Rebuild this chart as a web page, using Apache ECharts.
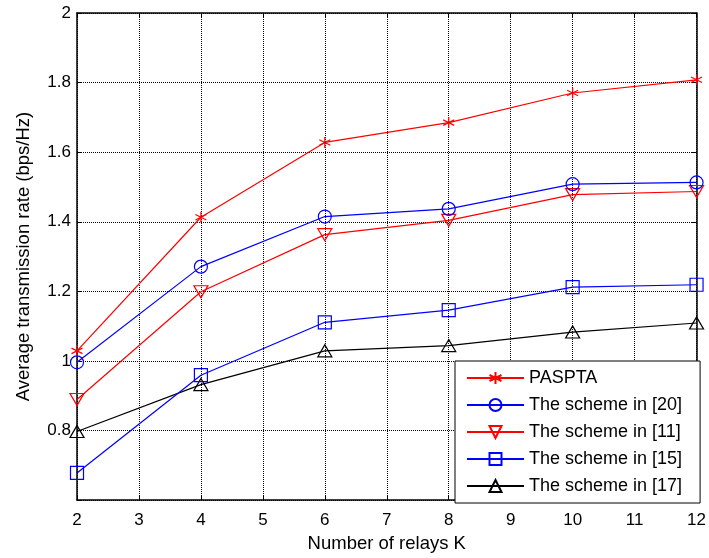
<!DOCTYPE html>
<html>
<head>
<meta charset="utf-8">
<script src="https://cdn.jsdelivr.net/npm/echarts@6/dist/echarts.min.js"></script>
<style>html,body{margin:0;padding:0;background:#fff;}#c{width:709px;height:558px;}</style>
</head>
<body>
<div id="c"></div>
<script>
var relays = [2, 4, 6, 8, 10, 12];
var seriesNames = ['PASPTA', 'The scheme in [20]', 'The scheme in [11]', 'The scheme in [15]', 'The scheme in [17]'];
var paspta   = [1.029, 1.413, 1.628, 1.685, 1.770, 1.808];
var scheme20 = [0.996, 1.271, 1.415, 1.437, 1.508, 1.513];
var scheme11 = [0.889, 1.199, 1.363, 1.404, 1.478, 1.487];
var scheme15 = [0.678, 0.959, 1.111, 1.146, 1.212, 1.219];
var scheme17 = [0.797, 0.932, 1.029, 1.044, 1.083, 1.109];
var xTicks = [2, 3, 4, 5, 6, 7, 8, 9, 10, 11, 12];
var yTicks = [0.8, 1, 1.2, 1.4, 1.6, 1.8, 2];

var allValues = [paspta, scheme20, scheme11, scheme15, scheme17];
var colors = ['#ff0000', '#0000ff', '#ff0000', '#0000ff', '#000000'];
var symbols = [
  'path://M0,-10L0,10M-8.66,-5L8.66,5M-8.66,5L8.66,-5',
  'circle', 'triangle', 'rect', 'triangle'
];
var rotates = [0, 0, 180, 0, 0];
var sizes = [11, 13, [14, 12], 13, [14, 12]];

function pairs(vals) { return relays.map(function (x, i) { return [x, vals[i]]; }); }

var series = seriesNames.map(function (name, k) {
  return {
    name: name,
    type: 'line',
    data: pairs(allValues[k]),
    symbol: symbols[k],
    symbolRotate: rotates[k],
    symbolSize: sizes[k],
    showAllSymbol: true,
    lineStyle: { color: colors[k], width: 1.2 },
    itemStyle: { color: 'rgba(0,0,0,0)', borderColor: colors[k], borderWidth: 1.2 },
    emphasis: { disabled: true },
    animation: false,
    z: 10 - k
  };
});

var chart = echarts.init(document.getElementById('c'), null, { renderer: 'canvas' });
var FF = 'Liberation Sans, Arial, sans-serif';
var axisFont = { fontFamily: FF, fontSize: 17, color: '#000' };
chart.setOption({
  animation: false,
  backgroundColor: '#fff',
  grid: { left: 77, right: 10, top: 13, bottom: 55, show: false },
  legend: {
    orient: 'vertical',
    left: 455,
    top: 361,
    itemWidth: 57,
    itemHeight: 15,
    itemGap: 9,
    padding: [8, 18, 8, 11],
    backgroundColor: '#fff',
    borderColor: '#000',
    borderWidth: 1,
    textStyle: { fontFamily: FF, fontSize: 18, lineHeight: 18, color: '#000' },
    data: seriesNames
  },
  xAxis: [{
    type: 'value', min: 2, max: 12, interval: 1,
    name: 'Number of relays K', nameLocation: 'middle', nameGap: 33,
    nameTextStyle: { fontFamily: FF, fontSize: 18.5, color: '#000' },
    axisLine: { lineStyle: { color: '#000', width: 1.5 } },
    axisTick: { inside: true, length: 5, lineStyle: { color: '#000' } },
    axisLabel: Object.assign({ margin: 12, formatter: function (v) { return xTicks.indexOf(v) >= 0 ? String(v) : ''; } }, axisFont),
    splitLine: { show: true, lineStyle: { color: '#000', type: [1, 1], width: 1 } }
  }, {
    type: 'value', min: 2, max: 12, interval: 1, position: 'top',
    axisLine: { lineStyle: { color: '#000', width: 1.5 } },
    axisTick: { inside: true, length: 5, lineStyle: { color: '#000' } },
    axisLabel: { show: false }, splitLine: { show: false }
  }],
  yAxis: [{
    type: 'value', min: 0.6, max: 2, interval: 0.2,
    name: 'Average transmission rate (bps/Hz)', nameLocation: 'middle', nameGap: 44,
    nameTextStyle: { fontFamily: FF, fontSize: 18.5, color: '#000' },
    axisLine: { show: true, lineStyle: { color: '#000', width: 1.5 } },
    axisTick: { show: true, inside: true, length: 5, lineStyle: { color: '#000' } },
    axisLabel: Object.assign({ margin: 6, formatter: function (v) {
      var r = Math.round(v * 10) / 10;
      return yTicks.indexOf(r) >= 0 ? String(r) : '';
    } }, axisFont),
    splitLine: { show: true, lineStyle: { color: '#000', type: [1, 1], width: 1 } }
  }, {
    type: 'value', min: 0.6, max: 2, interval: 0.2, position: 'right',
    axisLine: { show: true, lineStyle: { color: '#000', width: 1.5 } },
    axisTick: { show: true, inside: true, length: 5, lineStyle: { color: '#000' } },
    axisLabel: { show: false }, splitLine: { show: false }
  }],
  series: series
});
</script>
</body>
</html>
